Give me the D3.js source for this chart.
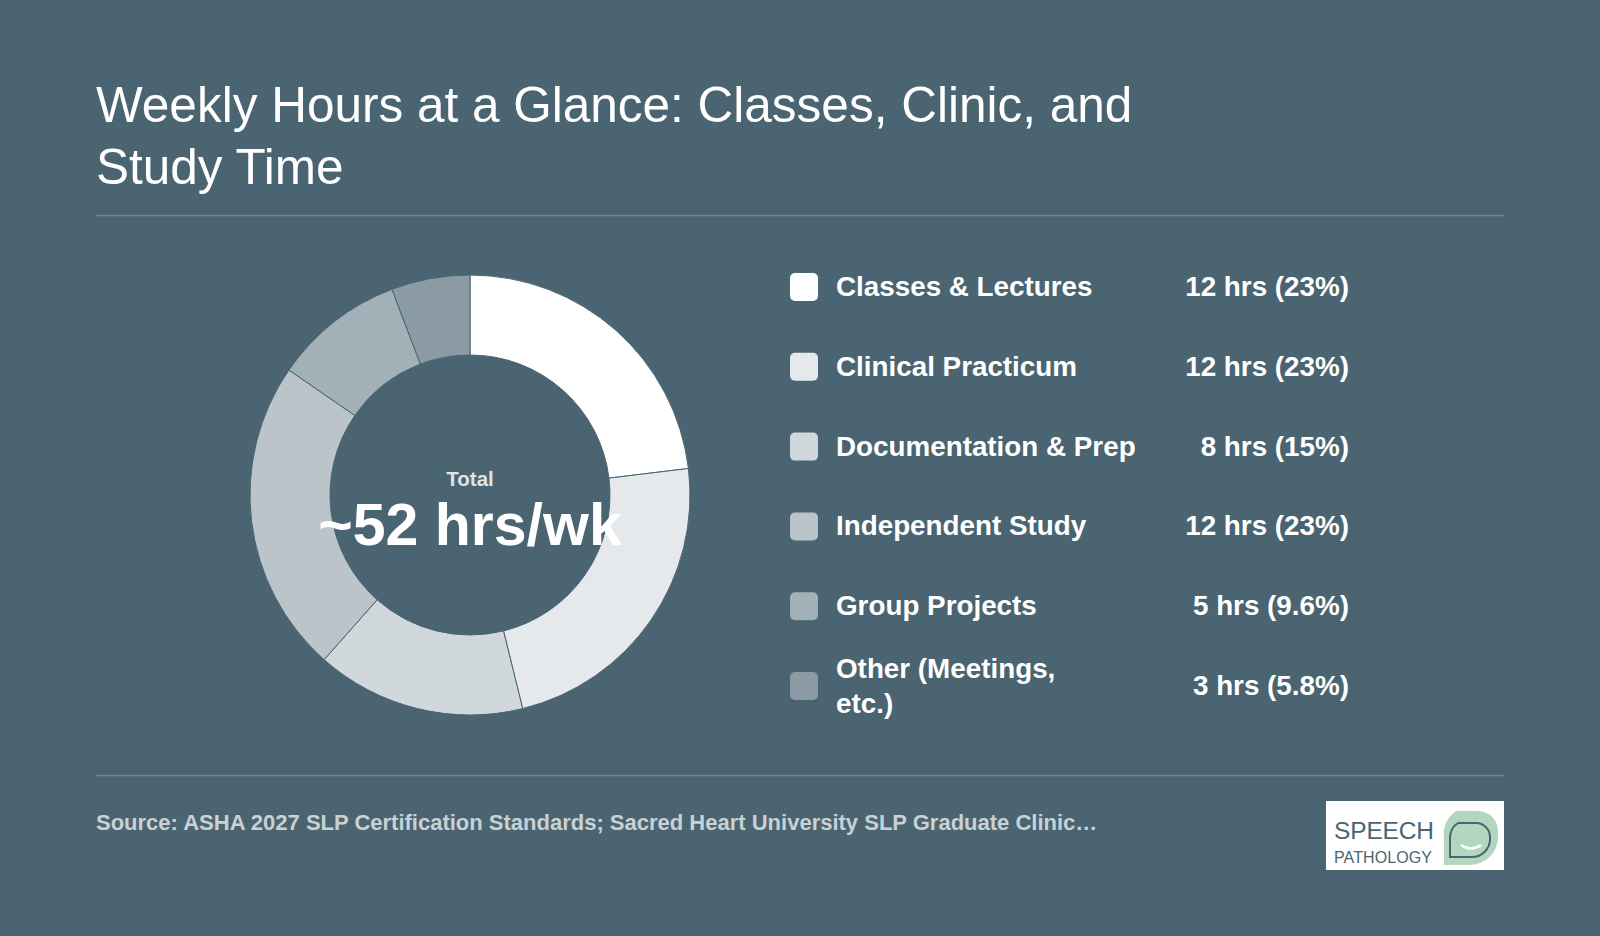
<!DOCTYPE html>
<html><head><meta charset="utf-8">
<script src="https://cdn.jsdelivr.net/npm/d3@7/dist/d3.min.js"></script>
<style>body{margin:0;background:#4a6571;}svg{display:block;font-family:"Liberation Sans",Arial,sans-serif;}</style>
</head><body>
<script>
const categories=["Classes & Lectures","Clinical Practicum","Documentation & Prep","Independent Study","Group Projects","Other (Meetings, etc.)"];
const hours=[12,12,8,12,5,3];
const valueLabels=["12 hrs (23%)","12 hrs (23%)","8 hrs (15%)","12 hrs (23%)","5 hrs (9.6%)","3 hrs (5.8%)"];
const colors=["#ffffff","#e6e9ec","#d1d8dc","#bac4c9","#a2b1b8","#8a9ba3"];
const W=1600,H=936,bg="#4a6571";
const svg=d3.select("body").append("svg").attr("width",W).attr("height",H);
svg.append("rect").attr("width",W).attr("height",H).attr("fill",bg);
const t=svg.append("text").attr("x",96).attr("fill","#fff").attr("font-size",49.5);
t.append("tspan").attr("x",96).attr("y",122).text("Weekly Hours at a Glance: Classes, Clinic, and");
t.append("tspan").attr("x",96).attr("y",184).text("Study Time");
svg.append("line").attr("x1",96).attr("x2",1504).attr("y1",215.5).attr("y2",215.5).attr("stroke","#6f8690").attr("stroke-width",1.5);
svg.append("line").attr("x1",96).attr("x2",1504).attr("y1",775.5).attr("y2",775.5).attr("stroke","#6f8690").attr("stroke-width",1.5);
const g=svg.append("g").attr("transform","translate(470,495)");
const pie=d3.pie().sort(null).value(d=>d)(hours);
const arc=d3.arc().innerRadius(140).outerRadius(220);
g.selectAll("path").data(pie).join("path").attr("d",arc).attr("fill",(d,i)=>colors[i]).attr("stroke",bg).attr("stroke-width",1);
g.append("text").attr("y",-9).attr("text-anchor","middle").attr("fill","#dfe4e7").attr("font-size",20.5).attr("font-weight","bold").text("Total");
g.append("text").attr("y",50).attr("text-anchor","middle").attr("fill","#fff").attr("font-size",59).attr("font-weight","bold").text("~52 hrs/wk");
const y=d3.scalePoint().domain(d3.range(categories.length)).range([287,686]);
const lg=svg.append("g");
categories.forEach((c,i)=>{
  const yy=y(i);
  lg.append("rect").attr("x",790).attr("y",yy-14).attr("width",28).attr("height",28).attr("rx",5).attr("fill",colors[i]);
  const lt=lg.append("text").attr("x",836).attr("fill","#fff").attr("font-size",27.8).attr("font-weight","bold");
  if(i===5){lt.append("tspan").attr("x",836).attr("y",yy-8).text("Other (Meetings,");lt.append("tspan").attr("x",836).attr("y",yy+27).text("etc.)");}
  else lt.attr("y",yy+9).text(c);
  lg.append("text").attr("x",1349).attr("y",yy+9).attr("text-anchor","end").attr("fill","#fff").attr("font-size",27.8).attr("font-weight","bold").text(valueLabels[i]);
});
svg.append("text").attr("x",96).attr("y",830).attr("fill","#c9d1d5").attr("font-size",22).attr("font-weight","bold").text("Source: ASHA 2027 SLP Certification Standards; Sacred Heart University SLP Graduate Clinic…");
const lo=svg.append("g").attr("transform","translate(1326,801)");
lo.append("rect").attr("width",178).attr("height",69).attr("fill","#fff");
lo.append("g").attr("transform","translate(8,0)").call(b=>{
b.append("path").attr("d","M122,10 h22 a20,20 0 0 1 20,20 v6 a28,28 0 0 1 -28,28 h-26 v-26 a28,28 0 0 1 12,-28 z").attr("fill","#b3d6c1");
b.append("path").attr("d","M124,22 h18 a14,14 0 0 1 14,14 v2 a18,18 0 0 1 -18,18 h-22 v-18 a18,18 0 0 1 8,-16 z").attr("fill","none").attr("stroke","#4a6571").attr("stroke-width",2);
b.append("path").attr("d","M127,44 q10,7 20,0").attr("fill","none").attr("stroke","#fff").attr("stroke-width",2.5);
});
lo.append("text").attr("x",8).attr("y",38).attr("fill","#4a6571").attr("font-size",24.5).attr("textLength",100).text("SPEECH");
lo.append("text").attr("x",8).attr("y",62).attr("fill","#4a6571").attr("font-size",16).attr("textLength",98).text("PATHOLOGY");
</script></body></html>
